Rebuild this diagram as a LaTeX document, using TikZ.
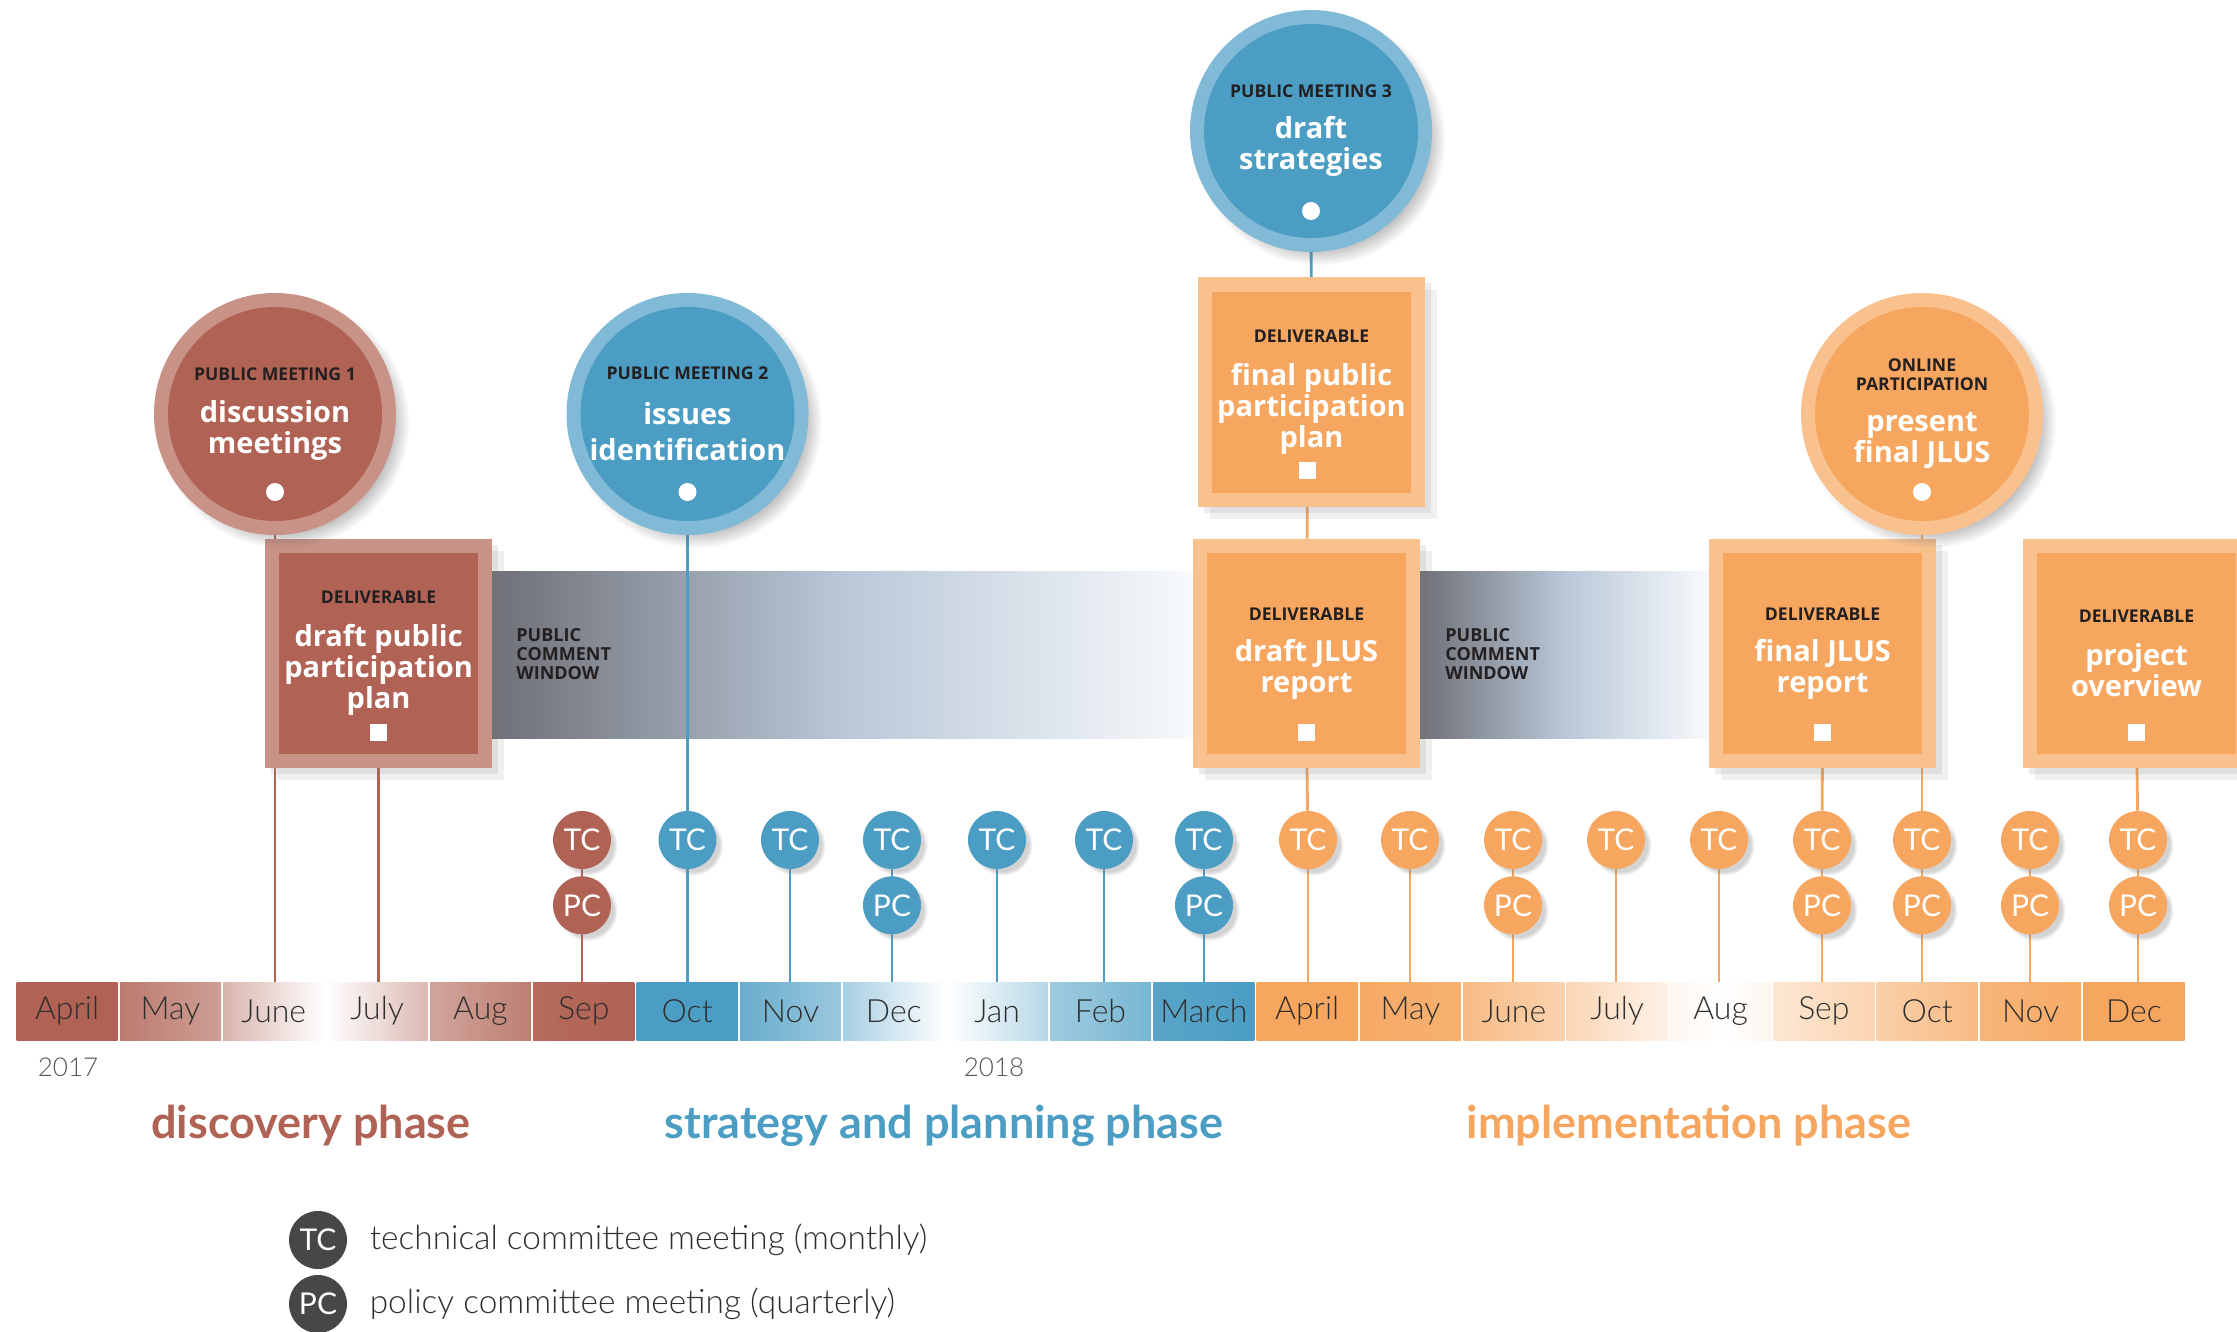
\documentclass[tikz,border=0pt]{standalone}
\usepackage{fontspec}
\setmainfont{Open Sans}
\newfontfamily\latofont{Lato}
\IfFontExistsTF{Lato Light}{\newfontfamily\thinfont{Lato Light}}{\newfontfamily\thinfont{Lato}}
\usetikzlibrary{positioning,shadows,backgrounds}

\definecolor{jlred}{HTML}{B06354}
\definecolor{jlblue}{HTML}{4B9DC4}
\definecolor{jlorange}{HTML}{F6A65E}
\definecolor{inkdark}{HTML}{231F20}
\definecolor{monthink}{HTML}{2E2E2E}
\definecolor{yearink}{HTML}{555555}
\definecolor{legenddark}{HTML}{474747}
\definecolor{bandgray}{HTML}{6F7077}
\definecolor{bandblue}{HTML}{B9C7D8}
\definecolor{bandwhite}{HTML}{F8FAFC}

\newcommand\captext{\fontsize{8.8}{9.5}\selectfont\bfseries\color{inkdark}}
\newcommand\whitetext{\fontsize{14.5}{15.5}\selectfont\bfseries}

\tikzset{
	meeting/.style={circle, inner sep=0pt, minimum size=121pt, fill=#1!70!white,
		path picture={\fill[#1] (path picture bounding box.center) circle (53.5pt);},
		circular drop shadow={shadow scale=1.04, shadow xshift=4pt, shadow yshift=-4pt, opacity=.45, fill=black!60},
		text=white, align=center, font=\whitetext},
	deliverable/.style={rectangle, inner sep=0pt, minimum width=113.5pt, minimum height=114.5pt, fill=#1!70!white,
		path picture={\fill[#1] ([shift={(7pt,7pt)}]path picture bounding box.south west) rectangle ([shift={(-7pt,-7pt)}]path picture bounding box.north east);},
		drop shadow={shadow xshift=3pt, shadow yshift=-3pt, opacity=.15},
		drop shadow={shadow xshift=6pt, shadow yshift=-6pt, opacity=.12},
		text=white, align=center, font=\whitetext},
	meetdot/.style={circle, fill=white, inner sep=0pt, minimum size=9pt},
	delivsq/.style={rectangle, fill=white, inner sep=0pt, minimum size=8.5pt},
	committee/.style={circle, fill=#1, inner sep=0pt, minimum size=29pt, text=white,
		font=\latofont\fontsize{15}{15}\selectfont},
	cshadow/.style={circular drop shadow={shadow scale=1.05, shadow xshift=2.5pt, shadow yshift=-2.5pt, opacity=.35}},
	monthcell/.style={rectangle, inner sep=0pt, minimum width=50.6pt, minimum height=29pt,
		text=monthink, font=\thinfont\fontsize{16}{16}\selectfont},
	stem/.style={draw=#1, line width=1.4pt},
	cwband/.style={left color=bandgray, right color=bandwhite, middle color=bandblue},
	cwtext/.style={anchor=west, align=left, inner sep=0pt, text=inkdark, font=\fontsize{9}{9.3}\selectfont\bfseries},
	phasetitle/.style={inner sep=0pt, text=#1, font=\latofont\bfseries\fontsize{22.5}{22.5}\selectfont},
	yearlabel/.style={inner sep=0pt, text=yearink, font=\thinfont\fontsize{13}{13}\selectfont},
	legendtext/.style={inner sep=0pt, text=monthink, font=\thinfont\fontsize{16.7}{16.7}\selectfont},
}

\begin{document}
\begin{tikzpicture}[x=0.5pt, y=0.5pt]
	\useasboundingbox (0,0) rectangle (2237,-1332);

	% month bar
	\foreach \i/\mname/\mcol/\lp/\rp/\mp in {0/April/jlred/100/100/100, 1/May/jlred/85/62/73, 2/June/jlred/48/0/24, 3/July/jlred/0/45/22, 4/Aug/jlred/58/82/70, 5/Sep/jlred/95/100/98,
			6/Oct/jlblue/100/100/100, 7/Nov/jlblue/83/56/70, 8/Dec/jlblue/49/0/25, 9/Jan/jlblue/0/40/20, 10/Feb/jlblue/53/75/64, 11/March/jlblue/92/100/96,
			12/April/jlorange/100/100/100, 13/May/jlorange/95/88/92, 14/June/jlorange/76/50/63, 15/July/jlorange/46/15/30, 16/Aug/jlorange/10/10/0,
			17/Sep/jlorange/27/48/38, 18/Oct/jlorange/54/76/65, 19/Nov/jlorange/83/94/89, 20/Dec/jlorange/100/100/100}{%
		\node[monthcell, left color=\mcol!\lp!white, right color=\mcol!\rp!white, middle color=\mcol!\mp!white] (m\i) at ({67.1+103.34*\i},-1011) {\mname};
	}

	\node[yearlabel] (y2017) at (68,-1067) {2017};
	\node[yearlabel] (y2018) at (994,-1067) {2018};
	\node[phasetitle=jlred] (ph1) at (311,-1126) {discovery phase};
	\node[phasetitle=jlblue] (ph2) at (944,-1126) {strategy and planning phase};
	\node[phasetitle=jlorange] (ph3) at (1689,-1126) {implementation phase};

	% committee meetings
	\foreach \i/\tx/\c in {5/582/jlred, 6/687.5/jlblue, 7/790/jlblue, 8/892/jlblue, 9/997/jlblue, 10/1104/jlblue, 11/1204/jlblue,
			12/1308/jlorange, 13/1410/jlorange, 14/1513/jlorange, 15/1616/jlorange, 16/1719/jlorange, 17/1822/jlorange, 18/1922/jlorange, 19/2030/jlorange, 20/2138/jlorange}
		\node[committee=\c, cshadow] (tc\i) at (\tx,-840) {TC};
	\foreach \i/\c in {5/jlred, 8/jlblue, 11/jlblue, 14/jlorange, 17/jlorange, 18/jlorange, 19/jlorange, 20/jlorange}
		\node[committee=\c, cshadow, below=3.25pt of tc\i] (pc\i) {PC};

	% deliverables
	\node[deliverable=jlred] (d1) at (378.6,-653.5) {{\captext DELIVERABLE}\\[6pt]draft public\\participation\\plan};
	\node[delivsq, yshift=18pt] (d1sq) at (d1.south) {};
	\node[deliverable=jlorange] (d2) at (1311.5,-392) {{\captext DELIVERABLE}\\[6pt]final public\\participation\\plan};
	\node[delivsq, xshift=-2pt, yshift=18pt] (d2sq) at (d2.south) {};
	\node[deliverable=jlorange] (d3) at (1306.5,-653.5) {{\captext DELIVERABLE}\\[5pt]draft JLUS\\report};
	\node[delivsq, yshift=18pt] (d3sq) at (d3.south) {};
	\node[deliverable=jlorange] (d4) at (1822.6,-653.5) {{\captext DELIVERABLE}\\[5pt]final JLUS\\report};
	\node[delivsq, yshift=18pt] (d4sq) at (d4.south) {};
	\node[deliverable=jlorange] (d5) at (2136.5,-653.5) {{\captext DELIVERABLE}\\[6pt]project\\overview};
	\node[delivsq, yshift=18pt] (d5sq) at (d5.south) {};

	% public meetings
	\node[meeting=jlred] (pm1) at (275,-414) {{\captext PUBLIC MEETING 1}\\[5.5pt]discussion\\meetings};
	\node[meetdot, yshift=-39pt] (pm1dot) at (pm1) {};
	\node[meeting=jlblue] (pm2) at (687.5,-414) {{\captext PUBLIC MEETING 2}\\[7pt]issues\\[2.5pt]identification};
	\node[meetdot, yshift=-39pt] (pm2dot) at (pm2) {};
	\node[meeting=jlblue] (pm3) at (1311,-131) {{\captext PUBLIC MEETING 3}\\[5pt]draft\\strategies};
	\node[meetdot, yshift=-40pt] (pm3dot) at (pm3) {};
	\node[meeting=jlorange] (onl) at (1922,-414) {{\captext ONLINE}\\[-6pt]{\captext PARTICIPATION}\\[5pt]present\\final JLUS};
	\node[meetdot, yshift=-39pt] (onldot) at (onl) {};

	% comment windows
	\node[cwtext] (cw1) at (516,-654) {PUBLIC\\COMMENT\\WINDOW};
	\node[cwtext] (cw2) at (1445,-654) {PUBLIC\\COMMENT\\WINDOW};

	\begin{scope}[on background layer]
		\shade[cwband] (492,-571) rectangle (1193,-738);
		\shade[cwband] (1420,-571) rectangle (1709,-738);
		\foreach \i/\c in {5/jlred, 6/jlblue, 7/jlblue, 8/jlblue, 9/jlblue, 10/jlblue, 11/jlblue, 12/jlorange, 13/jlorange,
				14/jlorange, 15/jlorange, 16/jlorange, 17/jlorange, 18/jlorange, 19/jlorange, 20/jlorange}
			\draw[stem=\c] (tc\i) -- (tc\i |- m\i.north);
		\draw[stem=jlred] (pm1dot) -- (pm1dot |- m2.north);
		\draw[stem=jlred] (d1sq) -- (d1sq |- m3.north);
		\draw[stem=jlblue] (pm2dot) -- (tc6);
		\draw[stem=jlblue] (pm3dot) -- (d2);
		\draw[stem=jlorange] (d2sq) -- (d3);
		\draw[stem=jlorange] (d3sq) -- (tc12);
		\draw[stem=jlorange] (d4sq) -- (tc17);
		\draw[stem=jlorange] (onldot) -- (tc18);
		\draw[stem=jlorange] (d5sq) -- (tc20);
	\end{scope}

	% legend
	\node[committee=legenddark] (lgtc) at (318,-1240) {TC};
	\node[legendtext, right=11pt of lgtc] (lgtctext) {technical committee meeting (monthly)};
	\node[committee=legenddark] (lgpc) at (318,-1304) {PC};
	\node[legendtext, right=11pt of lgpc] (lgpctext) {policy committee meeting (quarterly)};
\end{tikzpicture}
\end{document}
